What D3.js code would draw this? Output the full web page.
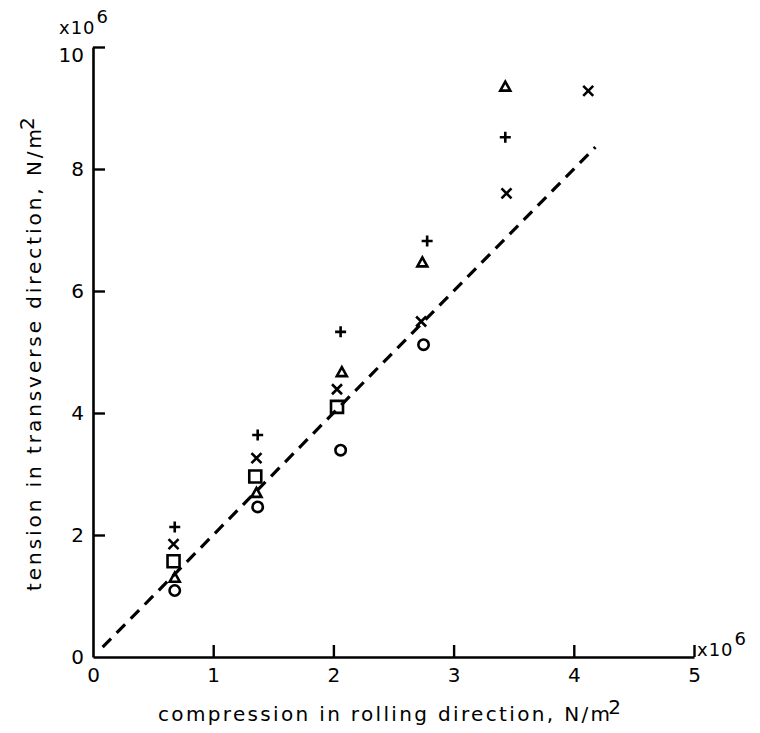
<!DOCTYPE html>
<html>
<head>
<meta charset="utf-8">
<script src="https://cdn.jsdelivr.net/npm/d3@7"></script>
<style>
  body { margin: 0; background: #fff; }
  text { font-family: "DejaVu Sans", sans-serif; fill: #000; }
</style>
</head>
<body>
<div id="chart"></div>
<script>
// values (both axes in units of 10^6 N/m^2)
var xTicks = [0, 1, 2, 3, 4, 5];
var yTicks = [0, 2, 4, 6, 8, 10];

var plusX = [0.68, 1.37, 2.06, 2.78, 3.43];
var plusY = [2.13, 3.64, 5.33, 6.82, 8.52];
var crossX = [0.67, 1.36, 2.03, 2.73, 3.44, 4.12];
var crossY = [1.85, 3.26, 4.39, 5.50, 7.60, 9.28];
var squareX = [0.67, 1.35, 2.03];
var squareY = [1.57, 2.96, 4.10];
var triangleX = [0.68, 1.36, 2.07, 2.74, 3.43];
var triangleY = [1.30, 2.69, 4.67, 6.47, 9.35];
var circleX = [0.68, 1.37, 2.06, 2.75];
var circleY = [1.09, 2.46, 3.39, 5.12];

var fitX = [0.08, 4.18];
var fitY = [0.16, 8.36];

var margin = { top: 47, left: 93, bottom: 76, right: 66 };
var W = 760, H = 733;
var width = W - margin.left - margin.right;
var height = H - margin.top - margin.bottom;

var svg = d3.select("#chart").append("svg")
    .attr("width", W)
    .attr("height", H);

var g = svg.append("g")
    .attr("transform", "translate(" + margin.left + "," + margin.top + ")");

var x = d3.scaleLinear().domain([0, 5]).range([0, width]);
var y = d3.scaleLinear().domain([0, 10]).range([height, 0]);

// axes, ticks pointing inwards
var xAxis = g.append("g")
    .attr("transform", "translate(0," + height + ")")
    .call(d3.axisBottom(x).tickValues(xTicks).tickSize(-12).tickSizeOuter(0).tickPadding(11).tickFormat(d3.format("d")));
var yAxis = g.append("g")
    .call(d3.axisLeft(y).tickValues(yTicks).tickSize(-12).tickSizeOuter(0).tickPadding(9).tickFormat(d3.format("d")));

[xAxis, yAxis].forEach(function(a) {
  a.select(".domain").attr("stroke", "#000").attr("stroke-width", 2.6);
  a.selectAll(".tick line").attr("stroke", "#000").attr("stroke-width", 2.4);
  a.selectAll(".tick text").style("font-size", "20px").attr("fill", "#000");
});
xAxis.selectAll(".tick").filter(function(d) { return d === 0; }).select("line").remove();
yAxis.selectAll(".tick").filter(function(d) { return d === 0; }).select("line").remove();
// the top label sits just below its tick
yAxis.selectAll(".tick").filter(function(d) { return d === 10; }).select("text").attr("y", 8);

// x10^6 multipliers
function mult(parent, px, py) {
  var t = parent.append("text").attr("x", px).attr("y", py).style("font-size", "18px");
  t.append("tspan").style("letter-spacing", "1px").text("x10");
  t.append("tspan").attr("dx", 1).attr("dy", -11).text("6");
}
mult(svg, 59, 34);
mult(svg, 697, 656);

// axis titles
function title(parent, str, len) {
  var t = parent.append("text").style("font-size", "20px");
  t.append("tspan").attr("textLength", len).attr("lengthAdjust", "spacing").text(str);
  t.append("tspan").attr("dx", -4).attr("dy", -7).text("2");
  return t;
}
title(svg, "compression in rolling direction, N/m", 452)
    .attr("x", 158).attr("y", 721);
title(svg, "tension in transverse direction, N/m", 462)
    .attr("transform", "translate(41,591) rotate(-90)");

// dashed fit line
var line = d3.line()
    .x(function(d) { return x(d[0]); })
    .y(function(d) { return y(d[1]); });
g.append("path")
    .datum(d3.zip(fitX, fitY))
    .attr("d", line)
    .attr("fill", "none")
    .attr("stroke", "#000")
    .attr("stroke-width", 3.2)
    .attr("stroke-dasharray", "12,8");

// marker shapes
var shapes = {
  plus: function(s) { return "M" + (-s) + ",0H" + s + "M0," + (-s) + "V" + s; },
  cross: function(s) { return "M" + (-s) + "," + (-s) + "L" + s + "," + s + "M" + (-s) + "," + s + "L" + s + "," + (-s); },
  square: function(s) { return "M" + (-s) + "," + (-s) + "H" + s + "V" + s + "H" + (-s) + "Z"; },
  triangle: function(s) { return "M0," + (-s) + "L" + s + "," + (s * 0.8) + "H" + (-s) + "Z"; },
  circle: function(s) { return "M" + s + ",0A" + s + "," + s + " 0 1,1 " + (-s) + ",0A" + s + "," + s + " 0 1,1 " + s + ",0Z"; }
};

var series = [
  { shape: "plus", size: 5.5, xs: plusX, ys: plusY },
  { shape: "cross", size: 5, xs: crossX, ys: crossY },
  { shape: "square", size: 6, xs: squareX, ys: squareY },
  { shape: "triangle", size: 5, xs: triangleX, ys: triangleY },
  { shape: "circle", size: 5.2, xs: circleX, ys: circleY }
];

series.forEach(function(s) {
  g.selectAll(".m-" + s.shape)
    .data(d3.zip(s.xs, s.ys))
    .enter().append("path")
    .attr("class", "m-" + s.shape)
    .attr("transform", function(d) { return "translate(" + x(d[0]) + "," + y(d[1]) + ")"; })
    .attr("d", shapes[s.shape](s.size))
    .attr("fill", "none")
    .attr("stroke", "#000")
    .attr("stroke-width", 2.6);
});
</script>
</body>
</html>
